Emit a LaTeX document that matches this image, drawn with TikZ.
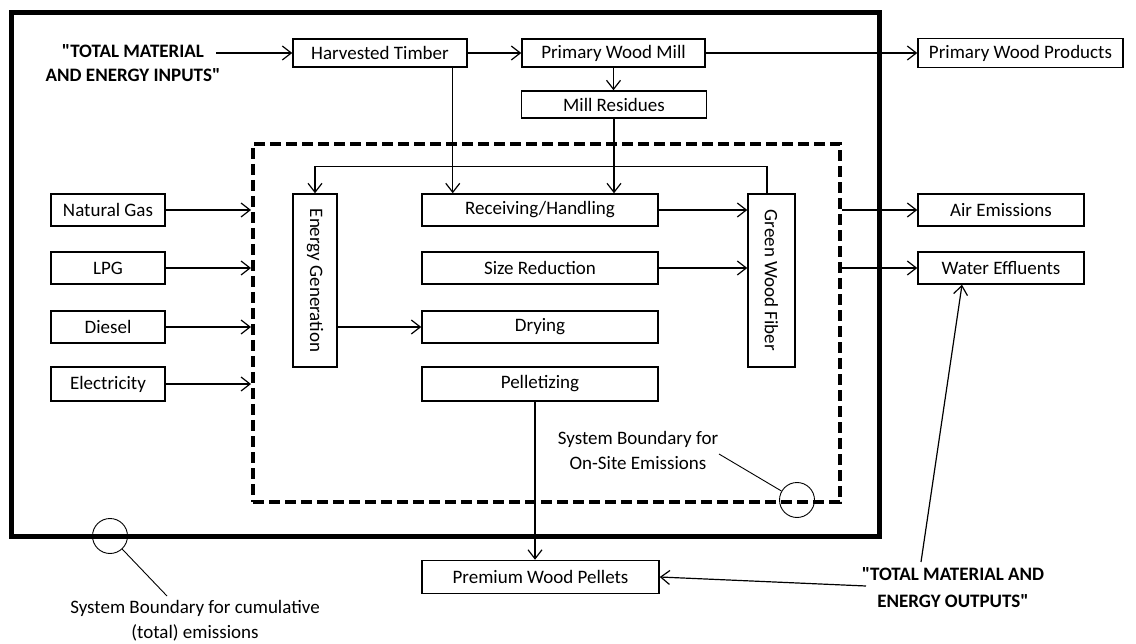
\documentclass[tikz,border=0pt]{standalone}
\usepackage{fontspec}
\usepackage{graphicx}
\setmainfont{Carlito}[Ligatures=TeXOff]
\usetikzlibrary{arrows.meta}
\begin{document}
\begin{tikzpicture}[x=1pt,y=-1pt,
  box/.style={draw, line width=1.5pt, inner sep=0pt, font=\fontsize{19}{22}\selectfont},
  vbox/.style={box, minimum width=#1, minimum height=173pt},
  arr/.style={line width=1.2pt, -{Straight Barb[length=9pt,width=14pt,line width=1.2pt]}},
  ln/.style={line width=1.2pt},
  thin/.style={line width=0.9pt},
  lbl/.style={inner sep=0pt, align=center, font=\fontsize{19}{25}\selectfont},
  blbl/.style={inner sep=0pt, align=center, font=\bfseries\fontsize{19}{#1}\selectfont},
]
\useasboundingbox (0,0) rectangle (1136,644);
\fill[white] (0,0) rectangle (1136,644);

% boundaries
\node[draw, line width=5pt, minimum width=868pt, minimum height=524pt, inner sep=0pt] (total) at (445.5,274.5) {};
\node[draw, line width=4pt, dash pattern=on 11pt off 5pt, minimum width=587pt, minimum height=358pt, inner sep=0pt] (onsite) at (546.5,323) {};

% top row
\node[blbl=24] (inputs) at (133,63) {"TOTAL MATERIAL\\AND ENERGY INPUTS"};
\coordinate (inA) at (216,53);
\node[box, minimum width=174pt, minimum height=28pt] (ht) at (380,53) {Harvested Timber};
\node[box, minimum width=183pt, minimum height=28pt] (pwm) at (613.5,53) {Primary Wood Mill};
\node[box, minimum width=205pt, minimum height=29pt] (pwp) at (1020.5,53) {Primary Wood Products};
\node[box, minimum width=185pt, minimum height=27pt] (mr) at (614,104.5) {Mill Residues};

% left inputs
\node[box, minimum width=114pt, minimum height=32pt] (ng) at (108,210) {Natural Gas};
\node[box, minimum width=114pt, minimum height=32pt] (lpg) at (108,268) {LPG};
\node[box, minimum width=114pt, minimum height=32pt] (dsl) at (108,327) {Diesel};
\node[box, minimum width=114pt, minimum height=34pt] (el) at (108,384) {Electricity};

% process
\node[vbox=44pt] (eg) at (315,280.5) {\rotatebox{-90}{Energy Generation}};
\node[box, minimum width=236pt, minimum height=32pt] (rh) at (540,210) {Receiving/Handling};
\node[box, minimum width=236pt, minimum height=32pt] (sr) at (540,268) {Size Reduction};
\node[box, minimum width=236pt, minimum height=32pt] (dr) at (540,327) {Drying};
\node[box, minimum width=236pt, minimum height=34pt] (pel) at (540,384) {Pelletizing};
\node[vbox=47pt] (gwf) at (771.5,280.5) {\rotatebox{-90}{Green Wood Fiber}};

% outputs
\node[box, minimum width=166pt, minimum height=32pt] (ae) at (1001,210) {Air Emissions};
\node[box, minimum width=166pt, minimum height=32pt] (we) at (1001,268) {Water Effluents};
\node[box, minimum width=237pt, minimum height=33pt] (ppel) at (540.5,577) {Premium Wood Pellets};
\node[blbl=27] (outputs) at (953,588) {"TOTAL MATERIAL AND\\ENERGY OUTPUTS"};
\coordinate (outA) at (866,586);
\coordinate (outB) at (921,562);

% annotations
\node[draw, thin, circle, minimum size=35pt, inner sep=0pt] (c1) at (110,536) {};
\node[lbl] (cum) at (195,621) {System Boundary for cumulative\\(total) emissions};
\coordinate (c1tip) at (167,596);
\node[draw, thin, circle, minimum size=35pt, inner sep=0pt] (c2) at (797,500) {};
\node[lbl] (ons) at (638,450.5) {System Boundary for\\On-Site Emissions};
\coordinate (c2tip) at (719,454);

% connectors
\draw[arr] (inA) -- (ht.west);
\draw[arr] (ht.east) -- (pwm.west);
\draw[arr] (pwm.east) -- (pwp.west);
\draw[arr] (pwm.south) -- (pwm.south |- mr.north);
\draw[arr] ([xshift=-15pt]ht.south east) -- ([xshift=-15pt]ht.south east |- rh.north);
\draw[arr] (mr.south) -- (mr.south |- rh.north);
\draw[arr] ([xshift=-4.5pt]gwf.north) -- ++(0,-27) -| (eg.north);

\draw[arr] (ng.east) -- (ng.east -| onsite.west);
\draw[arr] (lpg.east) -- (lpg.east -| onsite.west);
\draw[arr] (dsl.east) -- (dsl.east -| onsite.west);
\draw[arr] (el.east) -- (el.east -| onsite.west);

\draw[arr] (rh.east) -- (rh.east -| gwf.west);
\draw[arr] (sr.east) -- (sr.east -| gwf.west);
\draw[arr] (eg.east |- dr) -- (dr.west);

\draw[arr] (onsite.east |- ae) -- (ae.west);
\draw[arr] (onsite.east |- we) -- (we.west);

\draw[arr] ([xshift=-5pt]pel.south) -- ([xshift=-5pt]pel.south |- ppel.north);
\draw[arr] (outA) -- (ppel.east);
\draw[arr] (outB) -- ([xshift=-39pt]we.south);

\draw[thin] (c1.-47) -- (c1tip);
\draw[thin] (c2.150) -- (c2tip);
\end{tikzpicture}
\end{document}
